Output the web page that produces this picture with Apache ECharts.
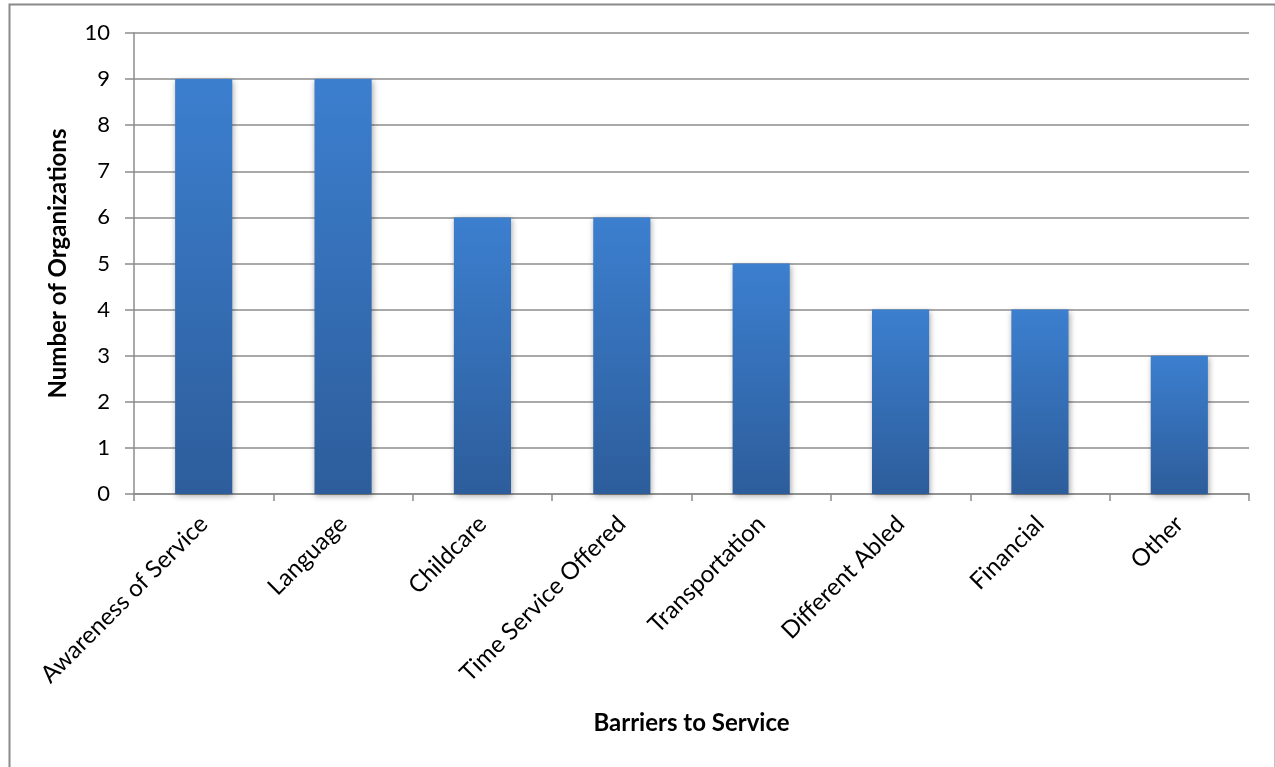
<!DOCTYPE html>
<html>
<head>
<meta charset="utf-8">
<style>
  html, body { margin: 0; padding: 0; background: #fff; }
  #chart { width: 1275px; height: 767px; }
</style>
<script src="https://cdn.jsdelivr.net/npm/echarts@6/dist/echarts.min.js"></script>
</head>
<body>
<div id="chart"></div>
<script>
// Barriers reported by organizations
const categories = [
  'Awareness of Service', 'Language', 'Childcare', 'Time Service Offered',
  'Transportation', 'Different Abled', 'Financial', 'Other'
];
const organizationCounts = [9, 9, 6, 6, 5, 4, 4, 3];
const yTicks = { min: 0, max: 10, interval: 1 };

const FONT = 'Lato, "Open Sans", sans-serif';
const GRID_COLOR = '#8c8c8c';

const chart = echarts.init(document.getElementById('chart'), null, { renderer: 'canvas' });

const barGradient = new echarts.graphic.LinearGradient(0, 0, 0, 1, [
  { offset: 0, color: '#3c7fcf' },
  { offset: 1, color: '#2d5d9b' }
]);

chart.setOption({
  animation: false,
  backgroundColor: '#ffffff',
  graphic: [{
    type: 'rect',
    left: 7, top: 2,
    shape: { width: 1266, height: 780 },
    style: { fill: 'none', stroke: '#8a8a8a', lineWidth: 2 },
    silent: true
  }],
  grid: { left: 134, right: 26, top: 33, bottom: 273, containLabel: false },
  xAxis: {
    type: 'category',
    data: categories,
    boundaryGap: true,
    name: 'Barriers to Service',
    nameLocation: 'middle',
    nameGap: 217,
    nameTextStyle: { fontFamily: FONT, fontSize: 24, fontWeight: 'bold', color: '#000' },
    axisLine: { show: true, lineStyle: { color: GRID_COLOR, width: 1.5 } },
    axisTick: { show: true, alignWithLabel: false, length: 7, lineStyle: { color: GRID_COLOR, width: 1.5 } },
    axisLabel: {
      interval: 0, rotate: 45, margin: 26,
      fontFamily: FONT, fontSize: 24, color: '#000'
    },
    splitLine: { show: false }
  },
  yAxis: {
    type: 'value',
    min: yTicks.min, max: yTicks.max, interval: yTicks.interval,
    name: 'Number of Organizations',
    nameLocation: 'middle',
    nameGap: 64,
    nameRotate: 90,
    nameTextStyle: { fontFamily: FONT, fontSize: 24, fontWeight: 'bold', color: '#000' },
    axisLine: { show: true, lineStyle: { color: GRID_COLOR, width: 1.5 } },
    axisTick: { show: true, length: 9, lineStyle: { color: GRID_COLOR, width: 1.5 } },
    axisLabel: { margin: 24, fontFamily: FONT, fontSize: 22, color: '#000' },
    splitLine: { show: true, lineStyle: { color: GRID_COLOR, width: 1.5 } }
  },
  series: [{
    type: 'bar',
    data: organizationCounts,
    barWidth: '41%',
    itemStyle: {
      color: barGradient,
      shadowColor: 'rgba(0,0,0,0.35)',
      shadowBlur: 6,
      shadowOffsetX: 1,
      shadowOffsetY: 2
    }
  }]
});
</script>
</body>
</html>
